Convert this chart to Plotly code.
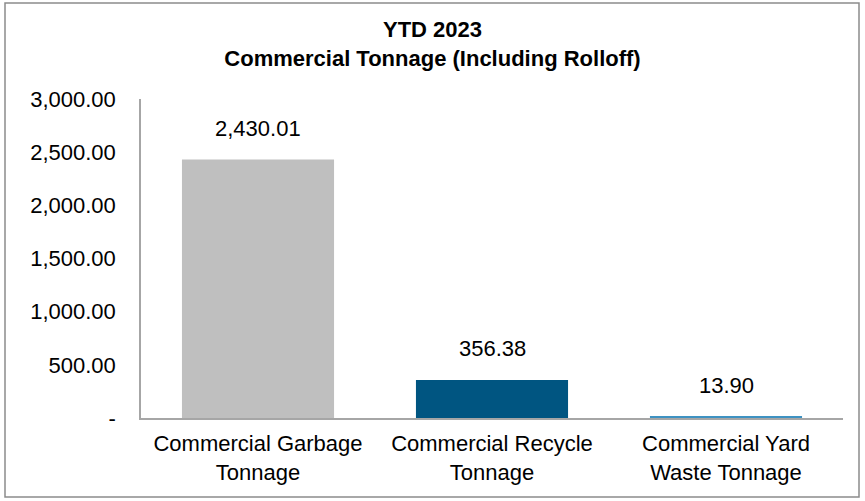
import plotly.graph_objects as go

categories = ["Commercial Garbage<br>Tonnage", "Commercial Recycle<br>Tonnage", "Commercial Yard<br>Waste Tonnage"]
values = [2430.01, 356.38, 13.90]
bar_colors = ["#BFBFBF", "#005581", "#3E92C2"]
tick_values = [0, 500, 1000, 1500, 2000, 2500, 3000]
tick_labels = ["-", "500.00", "1,000.00", "1,500.00", "2,000.00", "2,500.00", "3,000.00"]
value_labels = [f"{v:,.2f}" for v in values]

FONT = "Liberation Sans, Arial, sans-serif"
FS = 22

fig = go.Figure()
fig.add_trace(go.Bar(
    x=categories, y=values,
    marker=dict(color=bar_colors, line=dict(width=0)),
    hoverinfo="skip",
))

for c, v, t in zip(categories, values, value_labels):
    fig.add_annotation(x=c, y=v, text=t, showarrow=False, yanchor="bottom",
                       yshift=17, font=dict(family=FONT, size=FS, color="#000000"))

L, R, T, B = 141, 22, 99, 83
W, H = 865, 501
pw, ph = W - L - R, H - T - B
# outer border (paper coordinates relative to plot area)
fig.add_shape(type="rect", xref="paper", yref="paper",
              x0=(5 - L) / pw, x1=(859 - L) / pw,
              y0=(H - B - 497) / ph, y1=(H - B - 3) / ph,
              line=dict(color="#8C8C8C", width=1.5), fillcolor="rgba(0,0,0,0)", layer="below")

fig.update_layout(
    width=W, height=H,
    margin=dict(l=L, r=R, t=T, b=B),
    paper_bgcolor="white", plot_bgcolor="white",
    bargap=0.35,
    showlegend=False,
    font=dict(family=FONT, size=FS, color="#000000"),
    title=dict(text="<b>YTD 2023</b><br><b>Commercial Tonnage (Including Rolloff)</b>",
               x=0.5, xref="container", xanchor="center",
               y=1 - 37 / H, yref="container", yanchor="top",
               font=dict(family=FONT, size=22, color="#000000")),
    xaxis=dict(showline=True, linecolor="#A6A6A6", linewidth=1.5, showgrid=False,
               ticks="", ticklabelstandoff=5, tickfont=dict(size=FS), fixedrange=True),
    yaxis=dict(range=[0, 3000], showline=True, linecolor="#A6A6A6", linewidth=1.5,
               showgrid=False, zeroline=False, tickvals=tick_values, ticktext=tick_labels,
               ticks="", ticklabelstandoff=19, tickfont=dict(size=FS), fixedrange=True),
)

fig.write_html("out.html")
